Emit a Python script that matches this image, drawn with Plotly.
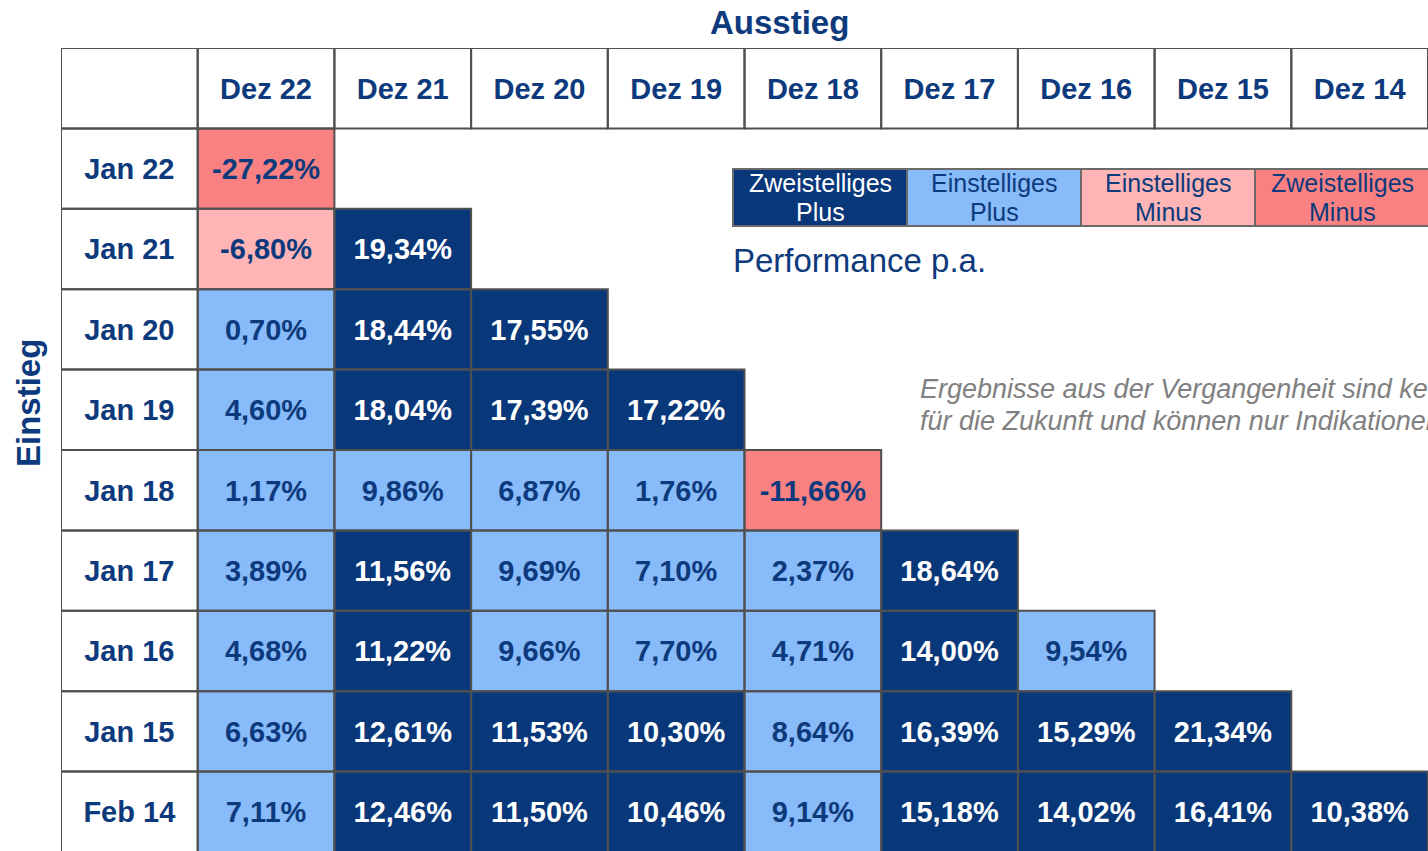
import plotly.graph_objects as go

# Ausstieg (exit) columns and Einstieg (entry) rows
exit_labels = ["Dez 22", "Dez 21", "Dez 20", "Dez 19", "Dez 18", "Dez 17", "Dez 16", "Dez 15", "Dez 14"]
entry_labels = ["Jan 22", "Jan 21", "Jan 20", "Jan 19", "Jan 18", "Jan 17", "Jan 16", "Jan 15", "Feb 14"]

# performance p.a. in %, one list per entry row (left to right)
perf_jan22 = [-27.22]
perf_jan21 = [-6.80, 19.34]
perf_jan20 = [0.70, 18.44, 17.55]
perf_jan19 = [4.60, 18.04, 17.39, 17.22]
perf_jan18 = [1.17, 9.86, 6.87, 1.76, -11.66]
perf_jan17 = [3.89, 11.56, 9.69, 7.10, 2.37, 18.64]
perf_jan16 = [4.68, 11.22, 9.66, 7.70, 4.71, 14.00, 9.54]
perf_jan15 = [6.63, 12.61, 11.53, 10.30, 8.64, 16.39, 15.29, 21.34]
perf_feb14 = [7.11, 12.46, 11.50, 10.46, 9.14, 15.18, 14.02, 16.41, 10.38]
rows = [perf_jan22, perf_jan21, perf_jan20, perf_jan19, perf_jan18,
        perf_jan17, perf_jan16, perf_jan15, perf_feb14]

legend_top = ["Zweistelliges", "Einstelliges", "Einstelliges", "Zweistelliges"]
legend_bottom = ["Plus", "Plus", "Minus", "Minus"]

DARK = "#08377A"
LIGHT = "#88BBFA"
PINK = "#FFB5B5"
SALMON = "#FA8181"
NAVY = "#0D3A7C"
GRID = "#505050"
fills = [DARK, LIGHT, PINK, SALMON]

W, H = 1428, 851
L, T = 61, 48
CW, RH = 136.7, 80.4
TXT_DY = 0.04  # nudge cell text a little lower


def category(v):
    if v >= 10:
        return 0
    if v >= 0:
        return 1
    if v > -10:
        return 2
    return 3


def fmt(v):
    return f"{v:.2f}".replace(".", ",") + "%"


# screen pixel -> data coordinates
def px_x(p):
    return (p - L) / CW - 1


def px_y(p):
    return (p - T) / RH - 1


n = len(exit_labels)
z = [[None] * n for _ in range(len(entry_labels))]
tx, ty, tt, tc = [], [], [], []
for r, vals in enumerate(rows):
    for c, v in enumerate(vals):
        k = category(v)
        z[r][c] = k
        tx.append(c + 0.5)
        ty.append(r + 0.5 + TXT_DY)
        tt.append(fmt(v))
        tc.append("white" if k == 0 else NAVY)

cs = [[0, DARK], [0.17, DARK], [0.17, LIGHT], [0.5, LIGHT],
      [0.5, PINK], [0.83, PINK], [0.83, SALMON], [1, SALMON]]

fig = go.Figure()
fig.add_trace(go.Heatmap(
    x=[c + 0.5 for c in range(n)], y=[r + 0.5 for r in range(len(entry_labels))],
    z=z, zmin=0, zmax=3, colorscale=cs, showscale=False, hoverinfo="skip"))

fig.add_trace(go.Scatter(
    x=tx, y=ty, text=tt, mode="text", hoverinfo="skip",
    textfont=dict(family="Liberation Sans", size=29, color=tc, weight="bold")))

# header row and label column text
fig.add_trace(go.Scatter(
    x=[c + 0.5 for c in range(n)] + [-0.5] * len(entry_labels),
    y=[-0.5 + TXT_DY] * n + [r + 0.5 + TXT_DY for r in range(len(entry_labels))],
    text=exit_labels + entry_labels, mode="text", hoverinfo="skip",
    textfont=dict(family="Liberation Sans", size=29, color=NAVY, weight="bold")))

shapes = []
line = dict(color=GRID, width=2)
# header row cells and label column cells
for c in range(-1, n):
    shapes.append(dict(type="rect", x0=c, x1=c + 1, y0=-1, y1=0, line=line, layer="above"))
for r in range(len(entry_labels)):
    shapes.append(dict(type="rect", x0=-1, x1=0, y0=r, y1=r + 1, line=line, layer="above"))
    for c in range(len(rows[r])):
        shapes.append(dict(type="rect", x0=c, x1=c + 1, y0=r, y1=r + 1, line=line, layer="above"))

# colour legend boxes, two text lines each
lx0, lw, ly0, ly1 = 733, 174, 169, 226
annotations = []
for i in range(len(fills)):
    shapes.append(dict(type="rect", x0=px_x(lx0 + i * lw), x1=px_x(lx0 + (i + 1) * lw),
                       y0=px_y(ly0), y1=px_y(ly1), fillcolor=fills[i],
                       line=dict(color="#6a6a6a", width=2), layer="above"))
    fc = "white" if i == 0 else NAVY
    for txt, yy in ((legend_top[i], 183), (legend_bottom[i], 212)):
        annotations.append(dict(x=px_x(lx0 + i * lw + lw / 2), y=px_y(yy), text=txt,
                                showarrow=False, xanchor="center", yanchor="middle",
                                font=dict(family="Liberation Sans", size=25, color=fc)))

annotations += [
    dict(x=px_x(731), y=px_y(260), text="Performance p.a.", showarrow=False,
         xanchor="left", yanchor="middle",
         font=dict(family="Liberation Sans", size=33, color=NAVY)),
    dict(x=px_x(918), y=px_y(389), text="<i>Ergebnisse aus der Vergangenheit sind keine Garantie</i>",
         showarrow=False, xanchor="left", yanchor="middle",
         font=dict(family="Liberation Sans", size=27, color="#808080")),
    dict(x=px_x(918), y=px_y(421), text="<i>für die Zukunft und können nur Indikationen sein.</i>",
         showarrow=False, xanchor="left", yanchor="middle",
         font=dict(family="Liberation Sans", size=27, color="#808080")),
    dict(x=(779 - L) / (W - L), y=(H - 22) / (H - T), xref="paper", yref="paper",
         text="<b>Ausstieg</b>", showarrow=False, xanchor="center", yanchor="middle",
         font=dict(family="Liberation Sans", size=33, color=NAVY)),
    dict(x=(28 - L) / (W - L), y=(H - 403) / (H - T), xref="paper", yref="paper",
         text="<b>Einstieg</b>", showarrow=False, textangle=-90, xanchor="center", yanchor="middle",
         font=dict(family="Liberation Sans", size=33, color=NAVY)),
]

fig.update_layout(
    width=W, height=H, margin=dict(l=L, r=0, t=T, b=0),
    paper_bgcolor="white", plot_bgcolor="white", showlegend=False,
    xaxis=dict(range=[-1, (W - L) / CW - 1], visible=False, fixedrange=True),
    yaxis=dict(range=[(H - T) / RH - 1, -1], visible=False, fixedrange=True),
    shapes=shapes, annotations=annotations,
)
# drop the default page margin so the figure fills the window exactly
fig.write_html("out.html", config={"displayModeBar": False},
               post_script="document.body.style.margin='0';document.body.style.overflow='hidden';")
